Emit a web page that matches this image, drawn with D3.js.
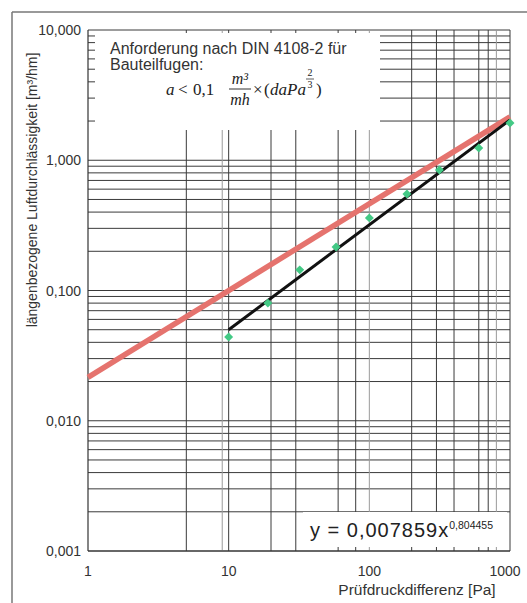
<!DOCTYPE html>
<html>
<head>
<meta charset="utf-8">
<script src="https://cdn.jsdelivr.net/npm/d3@7"></script>
<style>
  body { margin: 0; background: #fff; }
  text { font-family: "Liberation Sans", Arial, sans-serif; fill: #333; }
</style>
</head>
<body>
<div id="chart"></div>
<script>
// measured points (pressure difference [Pa], air permeability [m3/hm])
var pressure = [10, 19, 32, 58, 100, 185, 315, 600, 1000];
var permeability = [0.044, 0.080, 0.144, 0.216, 0.361, 0.551, 0.841, 1.24, 1.93];

// power-law trend line end points
var fitX = [10, 1000];
var fitY = [0.050, 2.04];

// DIN 4108-2 requirement line end points
var reqX = [1, 1000];
var reqY = [0.0215, 2.15];

var yTicks = [0.001, 0.01, 0.1, 1, 10];
var yTickLabels = ['0,001', '0,010', '0,100', '1,000', '10,000'];
var xTicks = [1, 10, 100, 1000];
var xTickLabels = ['1', '10', '100', '1000'];
// vertical grid lines as drawn in the original sheet
var xGridDark = [5, 10, 20, 30, 60, 80, 200, 300, 400, 600, 700, 1000];
var xGridLight = [9, 100, 800];

var width = 527, height = 603;
var margin = {top: 30, right: 17, bottom: 52, left: 88};

var svg = d3.select('#chart').append('svg')
    .attr('width', width)
    .attr('height', height);

// scanned page frame
svg.append('line').attr('x1', 12).attr('x2', 12).attr('y1', 12).attr('y2', height)
    .attr('stroke', '#777').attr('stroke-width', 1.5);
svg.append('line').attr('x1', 12).attr('x2', width).attr('y1', 12).attr('y2', 12)
    .attr('stroke', '#777').attr('stroke-width', 1.5);

var x = d3.scaleLog()
    .domain([1, 1000])
    .range([margin.left, width - margin.right]);

var y = d3.scaleLog()
    .domain([0.001, 10])
    .range([height - margin.bottom, margin.top]);

// horizontal minor grid 1..9 per decade
var yGrid = [];
[0.001, 0.01, 0.1, 1].forEach(function(d) {
    for (var i = 1; i <= 9; i++) yGrid.push(d * i);
});
yGrid.push(10);

svg.append('g').selectAll('line')
    .data(yGrid)
    .enter().append('line')
    .attr('x1', x(1)).attr('x2', x(1000))
    .attr('y1', d => y(d)).attr('y2', d => y(d))
    .attr('stroke', '#3a3a3a').attr('stroke-width', 1);

svg.append('g').selectAll('line')
    .data(xGridLight)
    .enter().append('line')
    .attr('x1', d => x(d)).attr('x2', d => x(d))
    .attr('y1', y(10)).attr('y2', y(0.001))
    .attr('stroke', '#9a9a9a').attr('stroke-width', 1);

svg.append('g').selectAll('line')
    .data(xGridDark)
    .enter().append('line')
    .attr('x1', d => x(d)).attr('x2', d => x(d))
    .attr('y1', y(10)).attr('y2', y(0.001))
    .attr('stroke', '#3a3a3a').attr('stroke-width', 1);

// axis frame lines
svg.append('line').attr('x1', x(1)).attr('x2', x(1)).attr('y1', y(10)).attr('y2', y(0.001))
    .attr('stroke', '#333').attr('stroke-width', 1.2);
svg.append('line').attr('x1', x(1)).attr('x2', x(1000)).attr('y1', y(0.001)).attr('y2', y(0.001))
    .attr('stroke', '#333').attr('stroke-width', 1.2);

// white text box covering the grid (top left)
svg.append('rect')
    .attr('x', 95).attr('y', 33).attr('width', 285).attr('height', 97)
    .attr('fill', '#fff');

// white box for the equation (bottom right)
svg.append('rect')
    .attr('x', 303).attr('y', 512).attr('width', 204).attr('height', 35)
    .attr('fill', '#fff');

// tick labels
svg.append('g').selectAll('text')
    .data(yTicks)
    .enter().append('text')
    .attr('x', 81)
    .attr('y', d => y(d) + 5)
    .attr('text-anchor', 'end')
    .style('font-size', '14px')
    .text((d, i) => yTickLabels[i]);

svg.append('g').selectAll('text')
    .data(xTicks)
    .enter().append('text')
    .attr('x', d => x(d) - (d === 1000 ? 5 : 0))
    .attr('y', 576)
    .attr('text-anchor', 'middle')
    .style('font-size', '14px')
    .text((d, i) => xTickLabels[i]);

// axis titles
svg.append('text')
    .attr('transform', 'translate(37,190) rotate(-90)')
    .attr('text-anchor', 'middle')
    .style('font-size', '14px')
    .text('längenbezogene Luftdurchlässigkeit [m³/hm]');

svg.append('text')
    .attr('x', 417).attr('y', 595)
    .attr('text-anchor', 'middle')
    .style('font-size', '15.5px')
    .text('Prüfdruckdifferenz [Pa]');

// requirement line
var line = d3.line().x(d => x(d[0])).y(d => y(d[1]));
svg.append('path')
    .datum(reqX.map((d, i) => [d, reqY[i]]))
    .attr('d', line)
    .attr('fill', 'none')
    .attr('stroke', '#e5736e')
    .attr('stroke-width', 5.5);

// trend line
svg.append('path')
    .datum(fitX.map((d, i) => [d, fitY[i]]))
    .attr('d', line)
    .attr('fill', 'none')
    .attr('stroke', '#111')
    .attr('stroke-width', 3);

// measured points (square diamonds)
svg.append('g').selectAll('path')
    .data(pressure.map((d, i) => [d, permeability[i]]))
    .enter().append('path')
    .attr('d', d3.symbol().type(d3.symbolSquare).size(40))
    .attr('transform', d => 'translate(' + x(d[0]) + ',' + y(d[1]) + ') rotate(45)')
    .attr('fill', '#43c985');

// requirement text
svg.append('text')
    .attr('x', 110).attr('y', 54)
    .style('font-size', '16px')
    .text('Anforderung nach DIN 4108-2 für');
svg.append('text')
    .attr('x', 110).attr('y', 70)
    .style('font-size', '16px')
    .text('Bauteilfugen:');

var serif = '"Liberation Serif", "DejaVu Serif", serif';
var f = svg.append('g');
function ftext(xp, yp, size, italic, anchor, s) {
    f.append('text').attr('x', xp).attr('y', yp)
        .attr('text-anchor', anchor)
        .style('font-family', serif)
        .style('font-style', italic ? 'italic' : 'normal')
        .style('font-size', size + 'px')
        .style('fill', '#222')
        .text(s);
}
ftext(166, 95, 17, true, 'start', 'a');
ftext(178, 95, 17, false, 'start', '<');
ftext(193, 95, 17, false, 'start', '0,1');
ftext(240, 84, 16, true, 'middle', 'm³');
f.append('line').attr('x1', 229).attr('x2', 251).attr('y1', 89).attr('y2', 89)
    .attr('stroke', '#333').attr('stroke-width', 1);
ftext(240, 105, 16, true, 'middle', 'mh');
ftext(253, 95, 17, false, 'start', '×');
ftext(264, 95, 17, false, 'start', '(');
ftext(270, 95, 17, true, 'start', 'daPa');
ftext(310, 76, 10, false, 'middle', '2');
f.append('line').attr('x1', 306).attr('x2', 314).attr('y1', 79).attr('y2', 79)
    .attr('stroke', '#333').attr('stroke-width', 0.8);
ftext(310, 88, 10, false, 'middle', '3');
ftext(316, 95, 17, false, 'start', ')');

// equation of the trend line
var eq = svg.append('text')
    .attr('x', 310).attr('y', 537)
    .style('font-size', '20px')
    .style('fill', '#222');
eq.append('tspan').style('letter-spacing', '1px').text('y = 0,007859x');
eq.append('tspan').attr('dy', -8).style('font-size', '10.5px').text('0,804455');
</script>
</body>
</html>
